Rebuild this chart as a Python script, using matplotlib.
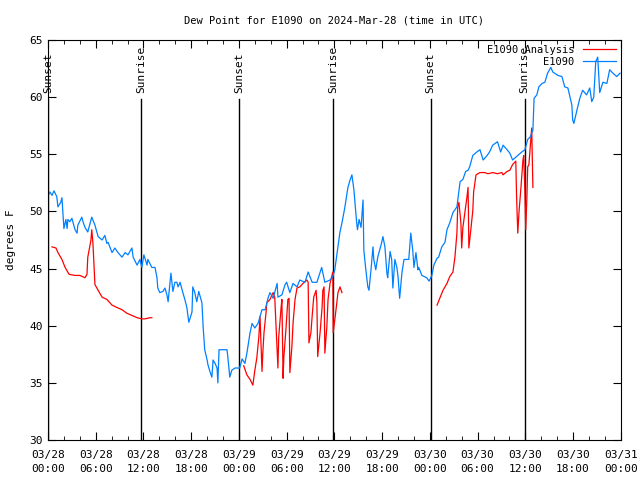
import numpy as np
import pandas as pd
import matplotlib
matplotlib.use('Agg')
import matplotlib.pyplot as plt
import matplotlib.dates as mdates

# 觀測值 E1090 (小時, 從 03/28 00:00 UTC 起算)
obs_hours = [0.0, 0.25, 0.5, 0.75, 1.1, 1.25, 1.6, 1.75, 1.9, 2.0, 2.25, 2.4, 2.5, 2.75, 3.0,
             3.4, 3.65, 3.75, 4.25, 4.4, 4.65, 5.0, 5.5, 5.9, 6.3, 6.8, 7.15, 7.4, 7.55, 8.05,
             8.4, 8.8, 9.3, 9.7, 10.05, 10.55, 10.7, 11.2, 11.55, 11.8, 12.05, 12.45, 12.55,
             13.05, 13.45, 13.7, 13.8, 14.05, 14.45, 14.7, 14.95, 15.1, 15.45, 15.7, 15.95,
             16.2, 16.35, 16.6, 16.95, 17.2, 17.45, 17.7, 18.1, 18.2, 18.45, 18.7, 18.95,
             19.35, 19.5, 19.7, 20.0, 20.1, 20.35, 20.6, 20.75, 21.0, 21.25, 21.35, 21.5,
             22.5, 22.6, 22.85, 23.1, 23.5, 24.1, 24.4, 24.75, 25.0, 25.4, 25.65, 26.0, 26.4,
             26.9, 27.3, 27.65, 27.9, 28.3, 28.8, 28.9, 29.4, 29.8, 30.0, 30.4, 30.8, 31.3,
             31.65, 32.3, 32.7, 33.2, 33.8, 34.4, 34.8, 35.45, 35.8, 36.05, 36.45, 36.7,
             36.95, 37.3, 37.7, 37.95, 38.2, 38.45, 38.8, 38.9, 39.1, 39.35, 39.6, 39.7,
             39.95, 40.2, 40.35, 40.6, 40.85, 40.95, 41.2, 41.45, 41.95, 42.1, 42.35, 42.6,
             42.7, 43.0, 43.2, 43.35, 43.6, 43.85, 44.0, 44.2, 44.5, 44.75, 45.35, 45.6,
             45.85, 46.0, 46.25, 46.5, 46.6, 47.0, 47.6, 47.9, 48.25, 48.5, 48.9, 49.1, 49.5,
             49.9, 50.15, 50.5, 50.9, 51.4, 51.8, 52.15, 52.5, 52.8, 53.0, 53.4, 53.9, 54.3,
             54.7, 55.2, 55.5, 55.9, 56.5, 56.9, 57.2, 57.7, 58.05, 58.4, 58.9, 59.55, 59.95,
             60.3, 60.6, 60.95, 61.1, 61.45, 61.7, 62.1, 62.45, 62.8, 63.2, 63.45, 64.1, 64.6,
             64.95, 65.35, 65.85, 65.95, 66.1, 66.5, 66.85, 67.2, 67.7, 68.1, 68.35, 68.6,
             68.85, 69.1, 69.35, 69.75, 70.25, 70.6, 71.0, 71.5, 71.9]
obs_values = [51.4, 51.7, 51.4, 51.8, 51.3, 50.4, 50.8, 51.2, 49.5, 48.5, 49.3, 48.5, 49.3, 49.1, 49.4,
              48.4, 48.1, 48.8, 49.5, 49.1, 48.6, 48.2, 49.5, 48.8, 47.8, 47.5, 47.9, 47.2, 47.3, 46.4,
              46.8, 46.4, 46.0, 46.4, 46.2, 46.8, 46.0, 45.3, 45.8, 45.1, 46.2, 45.3, 45.8,
              45.1, 45.1, 44.2, 43.3, 42.9, 43.0, 43.3, 42.7, 42.1, 44.6, 43.0, 43.8,
              43.8, 43.4, 43.8, 42.9, 42.3, 41.6, 40.3, 41.2, 43.4, 42.9, 42.1, 43.0,
              42.0, 39.9, 37.9, 37.0, 36.6, 36.0, 35.5, 37.0, 36.7, 36.3, 35.0, 37.9,
              37.9, 37.3, 35.5, 36.1, 36.3, 36.3, 37.1, 36.7, 37.6, 39.4, 40.2, 39.8, 40.2,
              41.4, 41.4, 42.4, 42.9, 42.4, 43.7, 42.5, 42.7, 43.6, 43.8, 42.9, 43.7, 43.4,
              44.0, 43.8, 44.7, 43.8, 43.8, 45.1, 43.8, 44.0, 44.3, 44.9, 46.9, 48.2,
              49.0, 50.3, 52.1, 52.7, 53.2, 51.9, 49.0, 48.4, 49.3, 48.6, 51.0, 46.6,
              44.9, 43.4, 43.1, 44.9, 46.9, 45.8, 44.9, 46.0, 47.3, 47.8, 46.9, 44.6,
              44.2, 46.5, 45.8, 43.3, 45.8, 45.1, 44.3, 42.4, 44.7, 45.8, 45.8, 48.1,
              46.6, 45.1, 46.4, 44.9, 45.1, 44.4, 44.2, 43.9, 44.4, 45.3, 45.9, 46.0, 46.9,
              47.3, 48.4, 49.0, 49.9, 50.4, 52.6, 52.8, 53.5, 53.6, 53.9, 54.9, 55.2, 55.4,
              54.5, 54.9, 55.2, 55.8, 56.1, 55.2, 55.8, 55.4, 55.1, 54.5, 54.8, 55.2, 55.4,
              56.3, 56.5, 57.1, 59.9, 60.2, 60.9, 61.2, 61.3, 62.1, 62.6, 62.2, 61.9, 61.8,
              60.9, 60.8, 59.3, 58.0, 57.7, 58.9, 59.9, 60.6, 60.2, 60.8, 59.6, 60.0,
              63.1, 63.5, 60.4, 61.3, 61.2, 62.4, 62.1, 61.8, 62.1]

# 分析值 E1090 Analysis, nan 代表斷線
ana_hours = [0.5, 1.0, 1.25, 1.75, 2.15, 2.65, 3.4, 4.0, 4.65, 4.9, 5.0, 5.4, 5.5, 5.65, 5.9,
             6.3, 6.8, 7.4, 8.05, 8.65, 9.3, 9.9, 10.55, 11.2, 11.8, 12.2, 12.8, 13.05,
             18.0,
             24.6, 25.0, 25.4, 25.75, 26.0, 26.25, 26.5, 26.65, 26.9, 27.0, 27.15, 27.4, 27.5,
             27.9, 28.3, 28.5, 28.9, 29.0, 29.3, 29.4, 29.55, 29.65, 29.9, 30.15, 30.3, 30.4,
             30.65, 30.8, 31.05, 31.3, 31.65, 32.05, 32.55, 32.7, 32.8, 33.05, 33.2, 33.4,
             33.7, 33.8, 33.9, 34.2, 34.45, 34.55, 34.7, 34.8, 35.05, 35.2, 35.45, 35.7,
             35.8, 35.85, 36.1, 36.3, 36.45, 36.7, 36.95,
             42.0,
             48.9, 49.25, 49.65, 50.15, 50.5, 50.9, 51.15, 51.4, 51.5, 51.65, 51.9, 52.0,
             52.15, 52.4, 52.65, 52.8, 52.85, 52.9, 53.15, 53.4, 53.5, 53.8, 54.3, 54.9,
             55.3, 55.9, 56.5, 57.05, 57.2, 57.7, 58.05, 58.4, 58.8, 58.9, 59.05, 59.2,
             59.45, 59.7, 59.8, 59.95, 60.05, 60.2, 60.3, 60.45, 60.7, 60.8, 60.95]
ana_values = [46.9, 46.8, 46.4, 45.8, 45.1, 44.5, 44.4, 44.4, 44.2, 44.5, 46.0, 47.5, 48.4, 47.2, 43.6,
              43.1, 42.5, 42.3, 41.8, 41.6, 41.4, 41.1, 40.9, 40.7, 40.6, 40.6, 40.7, 40.7,
              np.nan,
              36.5, 35.7, 35.3, 34.8, 36.1, 37.2, 39.0, 40.8, 36.0, 37.6, 39.4, 41.1, 42.0,
              42.3, 42.9, 42.5, 36.3, 39.0, 41.6, 42.3, 35.4, 37.3, 39.6, 42.3, 42.4, 35.9,
              38.1, 40.2, 42.3, 43.3, 43.4, 43.7, 44.0, 43.8, 38.5, 39.4, 40.8, 42.5,
              43.1, 42.0, 37.3, 39.4, 41.6, 43.1, 43.4, 37.6, 39.9, 42.3, 43.7, 44.4,
              44.7, 39.4, 40.8, 42.0, 42.9, 43.4, 42.9,
              np.nan,
              41.8, 42.4, 43.1, 43.7, 44.3, 44.7, 46.0, 48.1, 50.4, 50.8, 49.0, 46.8,
              48.6, 49.9, 51.2, 52.1, 49.9, 46.8, 48.4, 50.1, 51.7, 53.2, 53.4, 53.4,
              53.3, 53.4, 53.3, 53.4, 53.2, 53.5, 53.6, 54.1, 54.4, 51.3, 48.1, 49.9,
              52.1, 54.5, 54.9, 51.6, 48.4, 51.3, 53.9, 54.1, 56.3, 57.3, 52.1]

# 日出日落時間
sun_hours = [0.05, 11.7, 24.0, 35.8, 48.1, 59.9]
sun_labels = ['Sunset', 'Sunrise', 'Sunset', 'Sunrise', 'Sunset', 'Sunrise']

t0 = pd.Timestamp('2024-03-28 00:00')
obs_t = t0 + pd.to_timedelta(obs_hours, unit='h')
ana_t = t0 + pd.to_timedelta(ana_hours, unit='h')
sun_t = t0 + pd.to_timedelta(sun_hours, unit='h')

plt.rcParams['font.family'] = ['DejaVu Sans Mono']
plt.rcParams['font.size'] = 8

fig = plt.figure(figsize=(6.4, 4.8), dpi=100)
ax = fig.add_axes([0.075, 0.0833, 0.895, 0.8334])

# 日出日落直線與標籤
for t, lab in zip(sun_t, sun_labels):
    ax.plot([t, t], [30, 59.8], color='black', lw=1)
    ax.text(t, 60.4, lab, rotation=90, ha='center', va='bottom', fontsize=8)

ax.plot(ana_t, ana_values, color='#ff0000', lw=0.9, label='E1090 Analysis')
ax.plot(obs_t, obs_values, color='#0080ff', lw=0.9, label='E1090')

ax.set_xlim(t0, t0 + pd.Timedelta(days=3))
ax.set_ylim(30, 65)
ax.set_yticks(np.arange(30, 66, 5))
ax.xaxis.set_major_locator(mdates.HourLocator(byhour=[0, 6, 12, 18]))
ax.xaxis.set_minor_locator(mdates.HourLocator(byhour=range(0, 24, 2)))
ax.xaxis.set_major_formatter(mdates.DateFormatter('%m/%d\n%H:%M'))
ax.tick_params(which='both', direction='in', top=True, right=True, labelsize=8)
ax.tick_params(which='major', length=6)
ax.tick_params(which='minor', length=3)
ax.tick_params(axis='x', pad=7)
for lab in ax.get_xticklabels():
    lab.set_linespacing(1.5)

ax.set_ylabel('degrees F', fontsize=8, labelpad=10)
ax.set_title('Dew Point for E1090 on 2024-Mar-28 (time in UTC)', fontsize=7.5, pad=12)

leg = ax.legend(loc='upper right', frameon=False, markerfirst=False, fontsize=7.5,
                handlelength=3.2, borderaxespad=0.05, labelspacing=0.2, handletextpad=0.8)
for txt in leg.get_texts():
    txt.set_ha('right')

plt.savefig('out.png', dpi=100)
